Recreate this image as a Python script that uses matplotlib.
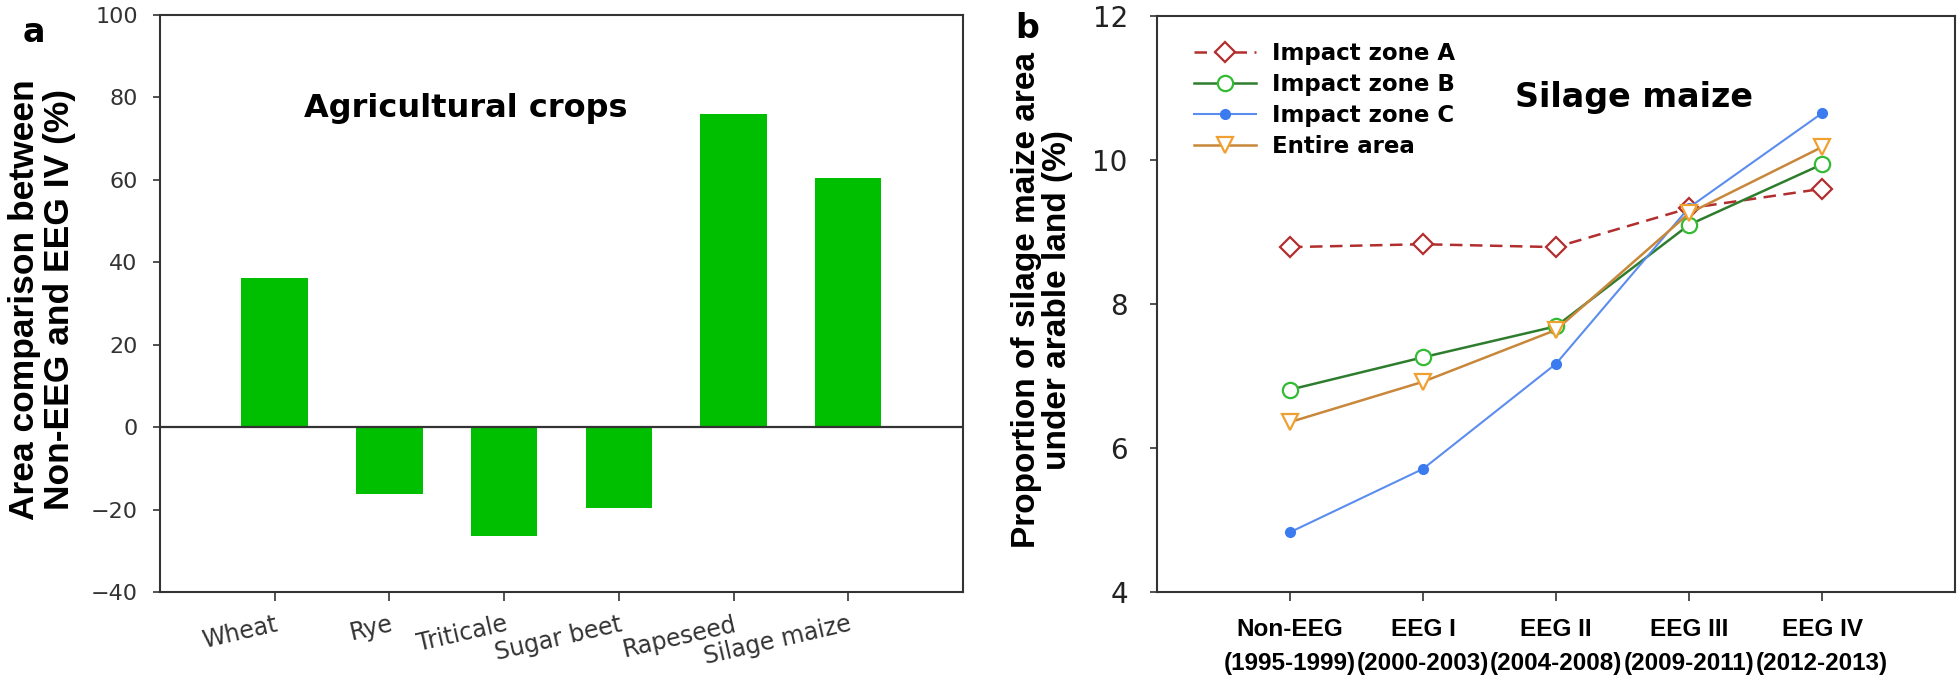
import matplotlib
matplotlib.use("Agg")
import matplotlib.pyplot as plt

# panel a: area change between Non-EEG and EEG IV (%)
crops = ["Wheat", "Rye", "Triticale", "Sugar beet", "Rapeseed", "Silage maize"]
area_change = [36.2, -16.3, -26.5, -19.6, 76.0, 60.4]

# panel b: proportion of silage maize area under arable land (%)
periods = ["Non-EEG\n(1995-1999)", "EEG I\n(2000-2003)", "EEG II\n(2004-2008)",
           "EEG III\n(2009-2011)", "EEG IV\n(2012-2013)"]
zone_a = [8.79, 8.83, 8.79, 9.33, 9.60]
zone_b = [6.81, 7.26, 7.69, 9.10, 9.94]
zone_c = [4.83, 5.71, 7.17, 9.34, 10.65]
entire = [6.36, 6.92, 7.64, 9.26, 10.18]

spine_col = "#333333"

fig = plt.figure(figsize=(19.58, 6.8), dpi=100)

# ---------------- panel a ----------------
ax1 = fig.add_axes([0.0817, 0.1294, 0.4101, 0.8486])
xpos = list(range(len(crops)))
ax1.bar(xpos, area_change, width=0.58, color="#00BE00", edgecolor="none", zorder=2)
ax1.axhline(0, color=spine_col, lw=1.6, zorder=3)
ax1.set_xlim(-1, 6)
ax1.set_ylim(-40, 100)
ax1.set_yticks(range(-40, 101, 20))
ax1.set_xticks(xpos)
ax1.set_xticklabels(crops, rotation=13, ha="right", rotation_mode="anchor",
                    fontsize=17, color="#333333")
for lab in ax1.get_yticklabels():
    lab.set_fontsize(16)
    lab.set_color("#333333")
ax1.tick_params(axis="y", length=5, width=1.2, pad=11, color=spine_col)
ax1.tick_params(axis="x", length=6.5, width=1.2, pad=8, color=spine_col)
for s in ax1.spines.values():
    s.set_linewidth(1.5)
    s.set_color(spine_col)
ax1.text(0.179, 0.823, "Agricultural crops", transform=ax1.transAxes,
         fontsize=23, fontweight="bold", ha="left", va="baseline")

fig.text(42 / 1958, 1 - 300 / 680, "Area comparison between\nNon-EEG and EEG IV (%)",
         rotation=90, ha="center", va="center", multialignment="center",
         fontsize=25.5, fontweight="bold", family="Liberation Sans", linespacing=1.05)
fig.text(23 / 1958, 1 - 42 / 680, "a", fontsize=24, fontweight="bold",
         ha="left", va="baseline")

# ---------------- panel b ----------------
ax2 = fig.add_axes([0.5909, 0.1294, 0.4076, 0.8471])
px = list(range(len(periods)))
ax2.plot(px, zone_a, color="#B22E2E", lw=1.8, dashes=(5, 3), marker="D", ms=10,
         mfc="white", mec="#B22E2E", mew=1.6, label="Impact zone A", zorder=3)
ax2.plot(px, zone_b, color="#2E7D2E", lw=1.8, marker="o", ms=11,
         mfc="white", mec="#33BB33", mew=1.6, label="Impact zone B", zorder=3)
ax2.plot(px, zone_c, color="#5B8DEF", lw=1.5, marker="o", ms=7,
         mfc="#3B7BF0", mec="#3B7BF0", label="Impact zone C", zorder=4)
ax2.plot(px, entire, color="#C8873A", lw=1.8, marker="v", ms=11,
         mfc="white", mec="#F0A030", mew=1.6, label="Entire area", zorder=5)
ax2.set_xlim(-1, 5)
ax2.set_ylim(4, 12)
ax2.set_yticks([4, 6, 8, 10, 12])
ax2.set_xticks(px)
ax2.set_xticklabels(periods, fontsize=17.5, fontweight="bold",
                    family="Liberation Sans", linespacing=1.6)
for lab in ax2.get_yticklabels():
    lab.set_fontsize(20)
    lab.set_color("#222222")
ax2.tick_params(axis="y", length=5, width=1.2, pad=16, color=spine_col)
ax2.tick_params(axis="x", length=6.5, width=1.2, pad=12, color=spine_col)
for s in ax2.spines.values():
    s.set_linewidth(1.5)
    s.set_color(spine_col)
ax2.text(0.449, 0.842, "Silage maize", transform=ax2.transAxes,
         fontsize=24, fontweight="bold", ha="left", va="baseline")
ax2.legend(loc="upper left", bbox_to_anchor=(0.047, 0.955), frameon=False,
           prop={"weight": "bold", "size": 16.5}, handlelength=2.7,
           handletextpad=0.7, labelspacing=0.35, borderaxespad=0, borderpad=0,
           numpoints=1)

fig.text(1042 / 1958, 1 - 300 / 680, "Proportion of silage maize area\nunder arable land (%)",
         rotation=90, ha="center", va="center", multialignment="center",
         fontsize=24, fontweight="bold", family="Liberation Sans", linespacing=1.0)
fig.text(1015 / 1958, 1 - 38 / 680, "b", fontsize=24, fontweight="bold",
         ha="left", va="baseline")

fig.savefig("out.png", dpi=100)
